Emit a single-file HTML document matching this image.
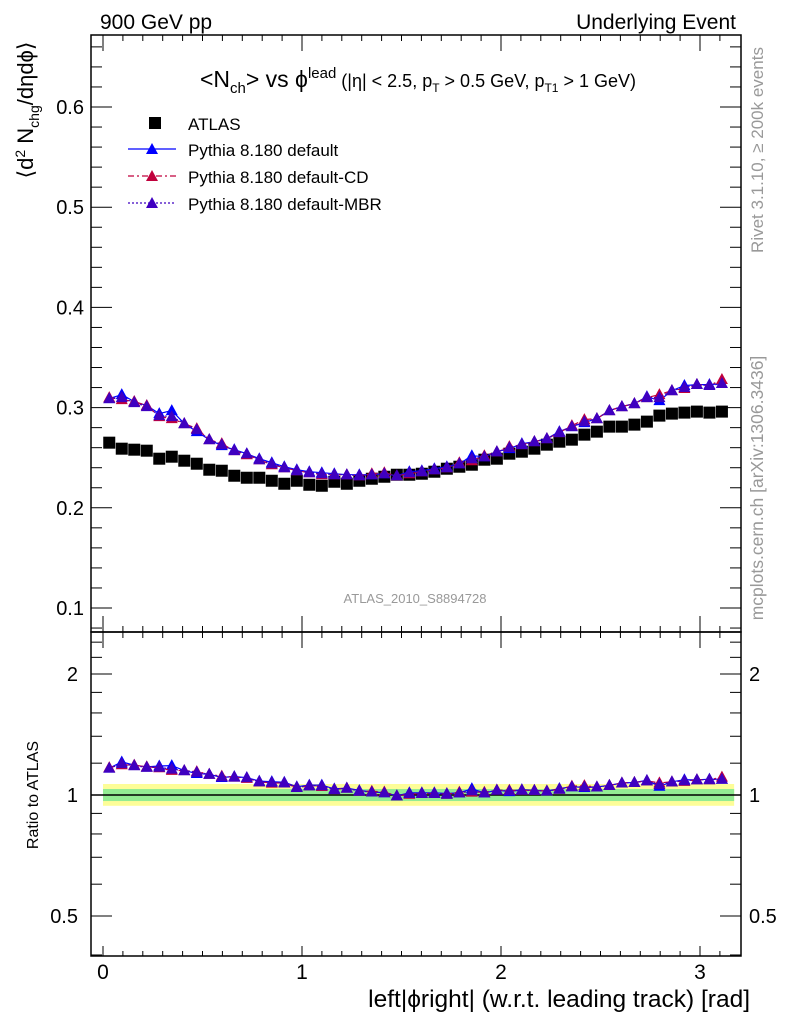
<!DOCTYPE html>
<html><head><meta charset="utf-8"><style>
html,body{margin:0;padding:0;background:#fff;}
svg{display:block;font-family:"Liberation Sans",sans-serif;}
</style></head><body>
<svg id="chart" width="786" height="1024" viewBox="0 0 786 1024">
<g id="bands"></g>
<g id="grid"></g>
<g id="series"></g>
<g id="texts">
<text x="100" y="29" font-size="21">900 GeV pp</text>
<text x="736" y="29" font-size="21" text-anchor="end">Underlying Event</text>
<text x="418" y="87" font-size="23" text-anchor="middle">&lt;N<tspan font-size="15" dy="6">ch</tspan><tspan dy="-6">&gt; vs ϕ</tspan><tspan font-size="15" dy="-9">lead</tspan><tspan font-size="18" dy="9"> (|η| &lt; 2.5, p</tspan><tspan font-size="12" dy="5">T</tspan><tspan font-size="18" dy="-5"> &gt; 0.5 GeV, p</tspan><tspan font-size="12" dy="5">T1</tspan><tspan font-size="18" dy="-5"> &gt; 1 GeV)</tspan></text>
<text transform="translate(33,110) rotate(-90)" font-size="22" text-anchor="middle">⟨d<tspan font-size="14" dy="-8">2</tspan><tspan dy="8"> N</tspan><tspan font-size="14" dy="6">chg</tspan><tspan dy="-6">/dηdϕ⟩</tspan></text>
<text transform="translate(38,795) rotate(-90)" font-size="16" text-anchor="middle">Ratio to ATLAS</text>
<text x="750" y="1007" font-size="24.5" text-anchor="end">left|ϕright| (w.r.t. leading track) [rad]</text>
<text x="415" y="603" font-size="13" fill="#999" text-anchor="middle">ATLAS_2010_S8894728</text>
<text transform="translate(763,150) rotate(-90)" font-size="17" fill="#999" text-anchor="middle">Rivet 3.1.10, ≥ 200k events</text>
<text transform="translate(763,488) rotate(-90)" font-size="17.5" fill="#999" text-anchor="middle">mcplots.cern.ch [arXiv:1306.3436]</text>
</g>
<g id="legend">
<rect x="149" y="117" width="12" height="12" fill="#000"/>
<text x="188" y="130" font-size="17">ATLAS</text>
<line x1="128" y1="149" x2="176" y2="149" stroke="#0000ff" stroke-width="1.3"/>
<polygon points="146,154 158,154 152,143" fill="#0000ff"/>
<text x="188" y="156" font-size="17">Pythia 8.180 default</text>
<line x1="128" y1="176" x2="176" y2="176" stroke="#c0003c" stroke-width="1.3" stroke-dasharray="6,3,2,3"/>
<polygon points="146,181 158,181 152,170" fill="#c0003c"/>
<text x="188" y="183" font-size="17">Pythia 8.180 default-CD</text>
<line x1="128" y1="203" x2="176" y2="203" stroke="#3f00c0" stroke-width="1.3" stroke-dasharray="2,2"/>
<polygon points="146,208 158,208 152,197" fill="#3f00c0"/>
<text x="188" y="210" font-size="17">Pythia 8.180 default-MBR</text>
</g>
<g id="frames"></g>
</svg>
<script>
const atlas = [0.265,0.259,0.258,0.257,0.249,0.251,0.247,0.244,0.238,0.237,0.232,0.230,0.230,0.227,0.224,0.227,0.223,0.222,0.226,0.224,0.227,0.229,0.231,0.233,0.233,0.234,0.236,0.239,0.241,0.243,0.248,0.249,0.254,0.256,0.259,0.263,0.266,0.268,0.273,0.276,0.281,0.281,0.283,0.286,0.292,0.294,0.295,0.296,0.295,0.296];
const pyDefault = [0.309,0.313,0.306,0.302,0.294,0.297,0.284,0.276,0.268,0.262,0.258,0.254,0.249,0.245,0.241,0.238,0.236,0.235,0.234,0.233,0.233,0.233,0.234,0.232,0.236,0.237,0.239,0.241,0.244,0.252,0.251,0.256,0.259,0.264,0.266,0.269,0.276,0.281,0.285,0.289,0.297,0.301,0.304,0.311,0.307,0.317,0.322,0.323,0.323,0.324];
const pyCD = [0.310,0.308,0.306,0.302,0.291,0.289,0.284,0.279,0.268,0.264,0.257,0.253,0.248,0.243,0.240,0.237,0.235,0.233,0.233,0.233,0.232,0.234,0.235,0.232,0.234,0.236,0.238,0.240,0.245,0.247,0.252,0.256,0.261,0.263,0.266,0.269,0.275,0.282,0.288,0.289,0.297,0.301,0.304,0.310,0.313,0.317,0.319,0.323,0.322,0.328];
const pyMBR = [0.309,0.310,0.305,0.301,0.292,0.291,0.284,0.278,0.268,0.263,0.257,0.254,0.248,0.244,0.240,0.237,0.235,0.234,0.233,0.233,0.232,0.233,0.234,0.232,0.235,0.236,0.238,0.240,0.244,0.249,0.251,0.256,0.260,0.263,0.266,0.269,0.275,0.281,0.286,0.289,0.297,0.301,0.304,0.310,0.310,0.317,0.320,0.323,0.322,0.324];
const mainTicks = [0.1,0.2,0.3,0.4,0.5,0.6];
const ratioTicks = [0.5,1,2];
const xTicks = [0,1,2,3];
const nBins = 50;

const NS="http://www.w3.org/2000/svg";
const L=91, R=741, T=35, MID=632, B=956;
const xS = v => 103 + v*199;
const yM = v => 608 - (v-0.1)*1002;
const yR = v => 795 - Math.log10(v)*402;
const g = id => document.getElementById(id);
function mk(tag, attrs, parent){const e=document.createElementNS(NS,tag);for(const k in attrs)e.setAttribute(k,attrs[k]);parent.appendChild(e);return e;}

const bands=g('bands');
let e=mk('rect',{x:xS(0),y:yR(1.065),width:xS(Math.PI+0.03)-xS(0),height:yR(0.94)-yR(1.065),fill:'#fdfd98'},bands);


e=mk('rect',{x:xS(0),y:yR(1.035),width:xS(Math.PI+0.03)-xS(0),height:yR(0.966)-yR(1.035),fill:'#93ec93'},bands);


e=mk('line',{x1:L,x2:R,y1:yR(1),y2:yR(1),stroke:'#000','stroke-width':1.5},bands);



const gr=g('grid');
function tick(x1,y1,x2,y2){mk('line',{x1,y1,x2,y2,stroke:'#000','stroke-width':1},gr);}
for(let v=0.08; v<=0.67; v+=0.02){const y=yM(v);const maj=mainTicks.some(t=>Math.abs(t-v)<1e-6);const len=maj?21:11;tick(L,y,L+len,y);tick(R,y,R-len,y);}
mainTicks.forEach(v=>{const t=mk('text',{x:84,y:yM(v)+7,'font-size':20,'text-anchor':'end'},gr);t.textContent=v.toFixed(1);

});
const rMinor=[0.4,0.6,0.7,0.8,0.9,1.2,1.4,1.6,1.8,2.2,2.4];
rMinor.forEach(v=>{const y=yR(v);tick(L,y,L+11,y);tick(R,y,R-11,y);});
ratioTicks.forEach(v=>{const y=yR(v);tick(L,y,L+21,y);tick(R,y,R-21,y);
 const t=mk('text',{x:78,y:y+7,'font-size':20,'text-anchor':'end'},gr);t.textContent=String(v);
 
 
 const t2=mk('text',{x:749,y:y+7,'font-size':20},gr);t2.textContent=String(v);
 
 });
for(let i=0;i<=31;i++){const v=i/10;const x=xS(v);const maj=i%10===0;const len=maj?16:6;
 tick(x,T,x,T+len);tick(x,MID,x,MID-len);tick(x,MID,x,MID+len);tick(x,B,x,B-(maj?10:5));}
xTicks.forEach(v=>{const t=mk('text',{x:xS(v),y:979,'font-size':21,'text-anchor':'middle'},gr);t.textContent=String(v);
 
 });

const sg=g('series');
const xc=i=>(i+0.5)*Math.PI/nBins;
function drawSeries(vals,color,dash,name,scale){
 const pts=vals.map((v,i)=>xS(xc(i)).toFixed(1)+','+scale(v).toFixed(1)).join(' ');
 const pl=mk('polyline',{points:pts,fill:'none',stroke:color,'stroke-width':1.2,'stroke-dasharray':dash},sg);
 
 
 vals.forEach((v,i)=>{const x=xS(xc(i)),y=scale(v);
  const p=mk('polygon',{points:`${x-6},${y+4.5} ${x+6},${y+4.5} ${x},${y-6.5}`,fill:color},sg);
  
  });
}
atlas.forEach((v,i)=>{const x=xS(xc(i)),y=yM(v);
 const r=mk('rect',{x:x-6,y:y-6,width:12,height:12,fill:'#000'},sg);
 
 });
drawSeries(pyDefault,'#0000ff','none','default',yM);
drawSeries(pyCD,'#c0003c','6,3,2,3','default-cd',yM);
drawSeries(pyMBR,'#3f00c0','2,2','default-mbr',yM);
drawSeries(pyDefault.map((v,i)=>v/atlas[i]),'#0000ff','none','ratio-default',yR);
drawSeries(pyCD.map((v,i)=>v/atlas[i]),'#c0003c','6,3,2,3','ratio-cd',yR);
drawSeries(pyMBR.map((v,i)=>v/atlas[i]),'#3f00c0','2,2','ratio-mbr',yR);

const fr=g('frames');
e=mk('rect',{x:L,y:T,width:R-L,height:MID-T,fill:'none',stroke:'#000','stroke-width':1.5},fr);


e=mk('rect',{x:L,y:MID,width:R-L,height:B-MID,fill:'none',stroke:'#000','stroke-width':1.5},fr);


</script>
</body></html>
